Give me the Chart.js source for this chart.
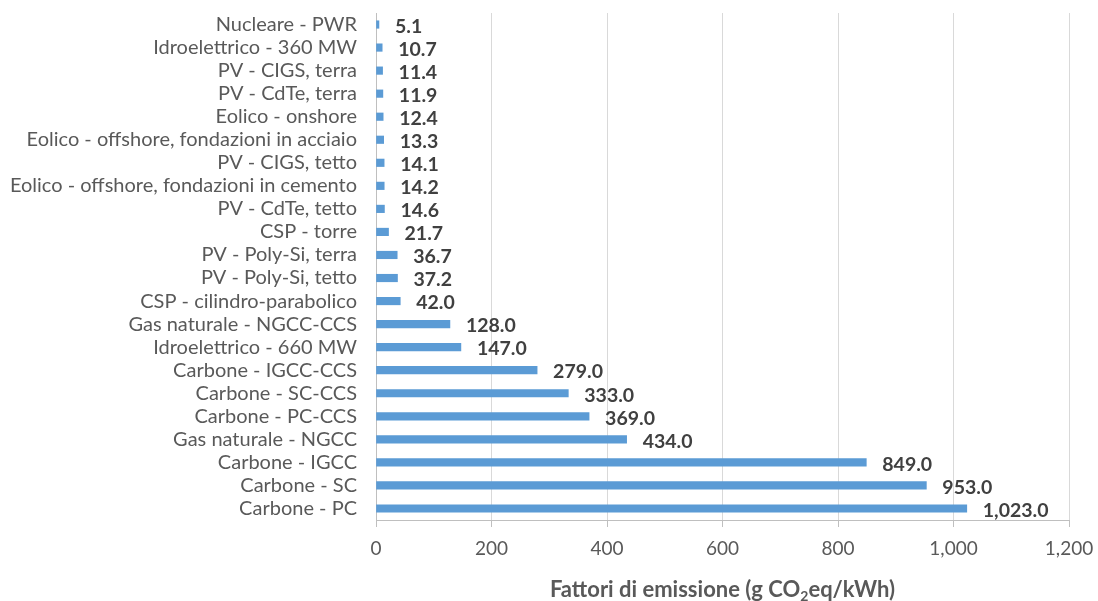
<!DOCTYPE html>
<html>
<head>
<meta charset="utf-8">
<script src="https://cdn.jsdelivr.net/npm/chart.js@4/dist/chart.umd.min.js"></script>
<style>
  html, body { margin: 0; padding: 0; background: #ffffff; }
  #wrap { width: 1098px; height: 601px; }
</style>
</head>
<body>
<div id="wrap"><canvas id="c" width="1098" height="601"></canvas></div>
<script>
// Emission factors per generation technology (g CO2eq/kWh), listed top to bottom
const categories = [
  "Nucleare - PWR",
  "Idroelettrico - 360 MW",
  "PV - CIGS, terra",
  "PV - CdTe, terra",
  "Eolico - onshore",
  "Eolico - offshore, fondazioni in acciaio",
  "PV - CIGS, tetto",
  "Eolico - offshore, fondazioni in cemento",
  "PV - CdTe, tetto",
  "CSP - torre",
  "PV - Poly-Si, terra",
  "PV - Poly-Si, tetto",
  "CSP - cilindro-parabolico",
  "Gas naturale - NGCC-CCS",
  "Idroelettrico - 660 MW",
  "Carbone - IGCC-CCS",
  "Carbone - SC-CCS",
  "Carbone - PC-CCS",
  "Gas naturale - NGCC",
  "Carbone - IGCC",
  "Carbone - SC",
  "Carbone - PC"
];
const emissionValues = [
  5.1, 10.7, 11.4, 11.9, 12.4, 13.3, 14.1, 14.2, 14.6, 21.7, 36.7, 37.2,
  42.0, 128.0, 147.0, 279.0, 333.0, 369.0, 434.0, 849.0, 953.0, 1023.0
];
const xTicks = [0, 200, 400, 600, 800, 1000, 1200];
const axisTitleParts = ["Fattori di emissione (g CO", "2", "eq/kWh)"];

const FONT = "Lato, 'Open Sans', sans-serif";
const fmt1 = v => v.toLocaleString("en-US", { minimumFractionDigits: 1, maximumFractionDigits: 1 });

// Value labels at the end of each bar
const valueLabels = {
  id: "valueLabels",
  afterDatasetsDraw(chart) {
    const ctx = chart.ctx;
    const meta = chart.getDatasetMeta(0);
    ctx.save();
    ctx.font = "bold 19.5px " + FONT;
    ctx.fillStyle = "#404040";
    ctx.textAlign = "left";
    ctx.textBaseline = "middle";
    meta.data.forEach((bar, i) => {
      ctx.fillText(fmt1(emissionValues[i]), bar.x + 16, bar.y + 2);
    });
    ctx.restore();
  }
};

// X axis title with a subscript "2"
const axisTitle = {
  id: "axisTitle",
  afterDraw(chart) {
    const ctx = chart.ctx;
    const area = chart.chartArea;
    const big = "bold 22px " + FONT;
    const small = "bold 14px " + FONT;
    ctx.save();
    ctx.fillStyle = "#595959";
    ctx.textBaseline = "alphabetic";
    ctx.font = big;
    const w0 = ctx.measureText(axisTitleParts[0]).width;
    const w2 = ctx.measureText(axisTitleParts[2]).width;
    ctx.font = small;
    const w1 = ctx.measureText(axisTitleParts[1]).width;
    const total = w0 + w1 + w2;
    let x = (area.left + area.right) / 2 - total / 2;
    const y = 597;
    ctx.textAlign = "left";
    ctx.font = big;
    ctx.fillText(axisTitleParts[0], x, y);
    x += w0;
    ctx.font = small;
    ctx.fillText(axisTitleParts[1], x, y + 4);
    x += w1;
    ctx.font = big;
    ctx.fillText(axisTitleParts[2], x, y);
    ctx.restore();
  }
};

new Chart(document.getElementById("c"), {
  type: "bar",
  data: {
    labels: categories,
    datasets: [{
      data: emissionValues,
      backgroundColor: "#5b9bd5",
      borderWidth: 0,
      barThickness: 7.5
    }]
  },
  options: {
    indexAxis: "y",
    responsive: false,
    animation: false,
    layout: { padding: { top: 13, right: 29, left: 0, bottom: 0 } },
    plugins: {
      legend: { display: false },
      tooltip: { enabled: false }
    },
    scales: {
      x: {
        min: 0,
        max: 1200,
        afterBuildTicks(axis) { axis.ticks = xTicks.map(v => ({ value: v })); },
        afterFit(axis) {
          axis.height = 81;
          axis.paddingLeft = 0;
          axis.paddingRight = 0;
        },
        grid: {
          color: "#d9d9d9",
          lineWidth: 1,
          drawTicks: true,
          tickLength: 7,
          tickColor: "#bfbfbf"
        },
        border: { display: true, color: "#bfbfbf", width: 1 },
        ticks: {
          color: "#595959",
          font: { family: FONT, size: 19 },
          padding: 10,
          maxRotation: 0,
          callback: v => v.toLocaleString("en-US")
        }
      },
      y: {
        afterFit(axis) {
          axis.width = 376;
          axis.paddingTop = 0;
          axis.paddingBottom = 0;
        },
        grid: { display: false, drawTicks: false },
        border: { display: true, color: "#bfbfbf", width: 1 },
        ticks: {
          color: "#595959",
          font: { family: FONT, size: 20 },
          padding: 19,
          autoSkip: false
        }
      }
    }
  },
  plugins: [valueLabels, axisTitle]
});
</script>
</body>
</html>
